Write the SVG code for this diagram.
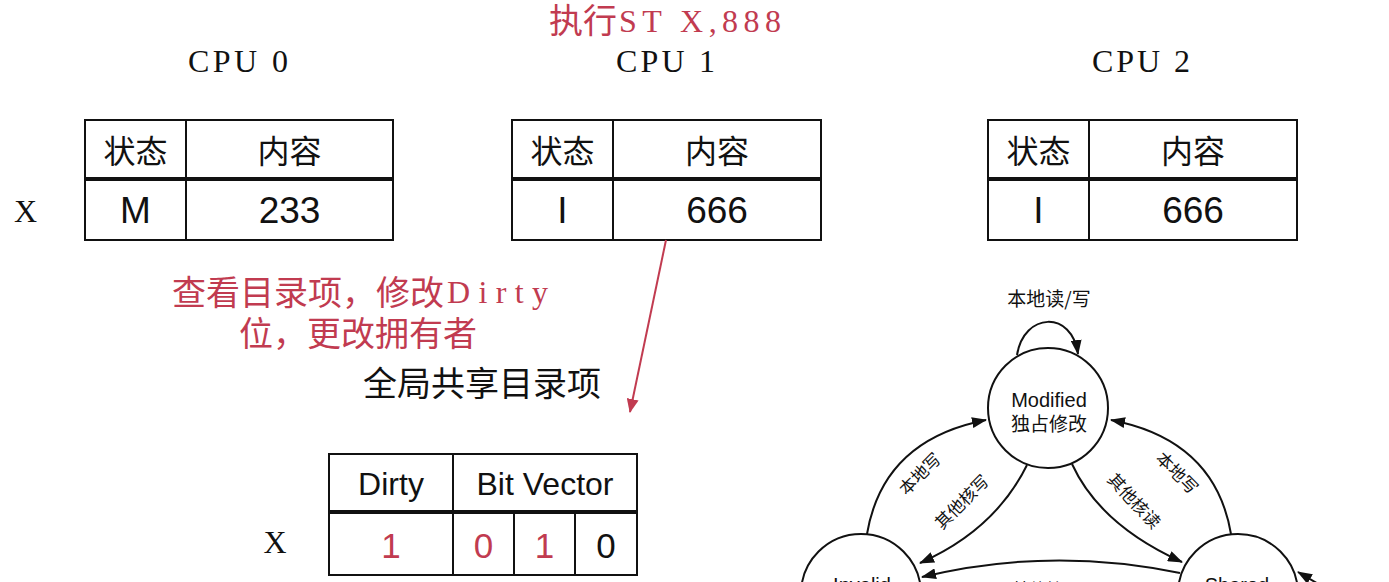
<svg xmlns="http://www.w3.org/2000/svg" width="1389" height="582" viewBox="0 0 1389 582">
<style>
.bg{fill:#ffffff}
.cell{fill:none;stroke:#111;stroke-width:2}
.mid{stroke:#111;stroke-width:4}
.ln{stroke:#111;stroke-width:2}
.mono{font-family:"Liberation Serif","Noto Sans CJK SC",serif;fill:#111}
.cjk{font-family:"Noto Sans CJK SC","Liberation Sans",sans-serif;fill:#111}
.sans{font-family:"Liberation Sans","Noto Sans CJK SC",sans-serif;fill:#111}
.red{fill:#c13b50}
.node{fill:#fff;stroke:#111;stroke-width:2}
.edge{fill:none;stroke:#111;stroke-width:2}
.redge{fill:none;stroke:#c13b50;stroke-width:2}
.lbl{font-family:"Noto Sans CJK SC","Liberation Sans",sans-serif;font-size:17px;fill:#111;text-anchor:middle}
</style>
<defs>
<marker id="ah" markerUnits="userSpaceOnUse" markerWidth="15" markerHeight="11" refX="14" refY="5.5" orient="auto"><path d="M0,0 L15,5.5 L0,11 z" fill="#111"/></marker>
<marker id="rah" markerUnits="userSpaceOnUse" markerWidth="14" markerHeight="12" refX="13" refY="6" orient="auto"><path d="M0,0 L14,6 L0,12 z" fill="#c13b50"/></marker>
</defs>
<rect class="bg" x="0" y="0" width="1389" height="582"/>

<g id="title">
<text class="cjk red" x="549" y="33" font-size="34">执行</text>
<text class="mono red" x="619" y="32" font-size="32" textLength="162" lengthAdjust="spacing">ST X,888</text>
</g>

<g id="cpu0">
<text class="mono" x="188" y="72" font-size="32" textLength="100" lengthAdjust="spacing">CPU 0</text>
<text class="mono" x="25.5" y="222" font-size="32" text-anchor="middle">X</text>
<rect class="cell" x="85" y="120" width="308" height="120"/>
<line class="ln" x1="186" y1="120" x2="186" y2="240"/>
<line class="mid" x1="85" y1="179" x2="393" y2="179"/>
<text class="cjk" x="135.5" y="162.5" font-size="32" text-anchor="middle">状态</text>
<text class="cjk" x="289.5" y="162.5" font-size="32" text-anchor="middle">内容</text>
<text class="sans" x="135.5" y="223" font-size="37" text-anchor="middle">M</text>
<text class="sans" x="289.5" y="223" font-size="37" text-anchor="middle">233</text>
</g>

<g id="cpu1">
<text class="mono" x="616" y="72" font-size="32" textLength="99" lengthAdjust="spacing">CPU 1</text>
<rect class="cell" x="512" y="120" width="309" height="120"/>
<line class="ln" x1="613" y1="120" x2="613" y2="240"/>
<line class="mid" x1="512" y1="179" x2="821" y2="179"/>
<text class="cjk" x="562.5" y="162.5" font-size="32" text-anchor="middle">状态</text>
<text class="cjk" x="717" y="162.5" font-size="32" text-anchor="middle">内容</text>
<text class="sans" x="562.5" y="223" font-size="37" text-anchor="middle">I</text>
<text class="sans" x="717" y="223" font-size="37" text-anchor="middle">666</text>
</g>

<g id="cpu2">
<text class="mono" x="1092" y="72" font-size="32" textLength="98" lengthAdjust="spacing">CPU 2</text>
<rect class="cell" x="988" y="120" width="309" height="120"/>
<line class="ln" x1="1089" y1="120" x2="1089" y2="240"/>
<line class="mid" x1="988" y1="179" x2="1297" y2="179"/>
<text class="cjk" x="1038.5" y="162.5" font-size="32" text-anchor="middle">状态</text>
<text class="cjk" x="1193" y="162.5" font-size="32" text-anchor="middle">内容</text>
<text class="sans" x="1038.5" y="223" font-size="37" text-anchor="middle">I</text>
<text class="sans" x="1193" y="223" font-size="37" text-anchor="middle">666</text>
</g>

<g id="note">
<text class="cjk red" x="172" y="305" font-size="34">查看目录项，修改</text>
<text class="mono red" x="447" y="303" font-size="32" textLength="101" lengthAdjust="spacing">Dirty</text>
<text class="cjk red" x="358" y="346" font-size="34" text-anchor="middle">位，更改拥有者</text>
<text class="cjk" x="482" y="396" font-size="34" text-anchor="middle">全局共享目录项</text>
</g>

<g id="directory">
<text class="mono" x="275" y="553" font-size="32" text-anchor="middle">X</text>
<rect class="cell" x="329" y="454" width="308" height="121"/>
<line class="ln" x1="453" y1="454" x2="453" y2="575"/>
<line class="ln" x1="514" y1="512" x2="514" y2="575"/>
<line class="ln" x1="575" y1="512" x2="575" y2="575"/>
<line class="mid" x1="329" y1="512" x2="637" y2="512"/>
<text class="sans" x="391" y="495" font-size="32" text-anchor="middle">Dirty</text>
<text class="sans" x="545" y="495" font-size="32" text-anchor="middle">Bit Vector</text>
<text class="sans red" x="391" y="558" font-size="35" text-anchor="middle">1</text>
<text class="sans red" x="483.5" y="558" font-size="35" text-anchor="middle">0</text>
<text class="sans red" x="544.5" y="558" font-size="35" text-anchor="middle">1</text>
<text class="sans" x="606" y="558" font-size="35" text-anchor="middle">0</text>
</g>

<g id="modified">
<circle class="node" cx="1048" cy="408" r="60"/>
<text class="sans" x="1049" y="407" font-size="20" text-anchor="middle">Modified</text>
<text class="cjk" x="1049" y="431" font-size="19" text-anchor="middle">独占修改</text>
</g>
<g id="invalid">
<circle class="node" cx="861" cy="594" r="60"/>
<text class="sans" x="862" y="592" font-size="20" text-anchor="middle">Invalid</text>
</g>
<g id="shared">
<circle class="node" cx="1238" cy="594" r="60"/>
<text class="sans" x="1237" y="592" font-size="20" text-anchor="middle">Shared</text>
</g>

<g id="connectors">
<path class="redge" d="M666,240 L630,412" marker-end="url(#rah)"/>
<path class="edge" d="M1017,355 C1024,312 1072,310 1078,354" marker-end="url(#ah)"/>
<path class="edge" d="M867,534 Q883,440 986,420" marker-end="url(#ah)"/>
<path class="edge" d="M1027,465 Q995,530 920,563" marker-end="url(#ah)"/>
<path class="edge" d="M1072,464 Q1100,525 1182,562" marker-end="url(#ah)"/>
<path class="edge" d="M1231,534 Q1215,440 1111,420" marker-end="url(#ah)"/>
<path class="edge" d="M1180,573 Q1050,546 922,577" marker-end="url(#ah)"/>
<path class="edge" d="M1332,592 L1298,572" marker-end="url(#ah)"/>
</g>

<g id="edge-labels">
<text class="lbl" x="1049" y="306" style="font-size:19px">本地读/写</text>
<text class="lbl" transform="translate(920,474) rotate(-45)" y="6">本地写</text>
<text class="lbl" transform="translate(962,502) rotate(-45)" y="6">其他核写</text>
<text class="lbl" transform="translate(1134,501) rotate(47)" y="6">其他核读</text>
<text class="lbl" transform="translate(1177,473) rotate(45)" y="6">本地写</text>
<text class="lbl" x="1046" y="596">其他核写</text>
</g>
</svg>
